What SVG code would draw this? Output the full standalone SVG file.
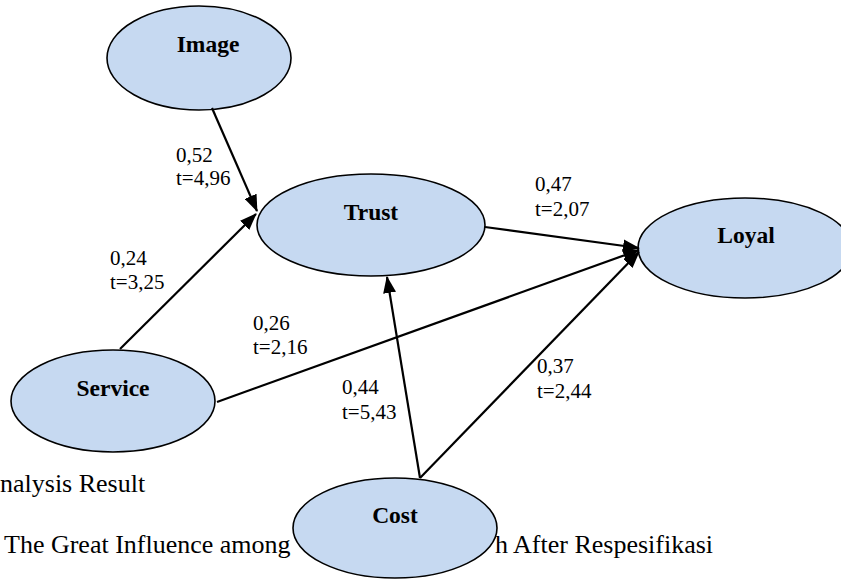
<svg xmlns="http://www.w3.org/2000/svg" width="841" height="579" viewBox="0 0 841 579">
<defs>
<style>
.node ellipse{fill:#C6D9F1;stroke:#000;stroke-width:1.6}
.node text{font-weight:bold;font-size:23.5px;text-anchor:middle;fill:#000}
.lbl{font-size:21px;fill:#000}
.cap{font-size:26px;fill:#000}
#connectors line{stroke:#000;stroke-width:2.2;marker-end:url(#arr)}
</style>
<marker id="arr" markerUnits="userSpaceOnUse" markerWidth="17" markerHeight="13" viewBox="0 0 17 13" refX="16" refY="6.5" orient="auto">
<path d="M0,0 L17,6.5 L0,13 z" fill="#000"/>
</marker>
</defs>
<rect width="841" height="579" fill="#fff"/>
<g font-family="'Liberation Serif', Tinos, 'Times New Roman', 'DejaVu Serif', serif">
<g id="caption">
<text class="cap" x="0" y="492">nalysis Result</text>
<text class="cap" x="4" y="553">The Great Influence among</text>
<text class="cap" x="495" y="553">h After Respesifikasi</text>
</g>
<g id="node-image" class="node"><ellipse cx="199" cy="58" rx="92" ry="52"/><text x="208" y="52">Image</text></g>
<g id="node-trust" class="node"><ellipse cx="371" cy="225" rx="114" ry="51"/><text x="371" y="220">Trust</text></g>
<g id="node-loyal" class="node"><ellipse cx="745" cy="248" rx="107" ry="50"/><text x="746" y="243">Loyal</text></g>
<g id="node-service" class="node"><ellipse cx="113" cy="401" rx="102" ry="51"/><text x="113" y="396">Service</text></g>
<g id="node-cost" class="node"><ellipse cx="395" cy="528" rx="102" ry="50"/><text x="395" y="523">Cost</text></g>
<g id="connectors">
<line x1="212" y1="108" x2="257" y2="211"/>
<line x1="120" y1="349" x2="256" y2="214"/>
<line x1="485" y1="227" x2="639" y2="248"/>
<line x1="217" y1="402" x2="639" y2="250"/>
<line x1="420" y1="478" x2="639" y2="252"/>
<line x1="420" y1="478" x2="387" y2="277"/>
</g>
<g id="labels">
<text class="lbl" x="176" y="162">0,52</text><text class="lbl" x="176" y="185">t=4,96</text>
<text class="lbl" x="110" y="265">0,24</text><text class="lbl" x="110" y="289">t=3,25</text>
<text class="lbl" x="253" y="330">0,26</text><text class="lbl" x="253" y="354">t=2,16</text>
<text class="lbl" x="535" y="191">0,47</text><text class="lbl" x="535" y="216">t=2,07</text>
<text class="lbl" x="342" y="394">0,44</text><text class="lbl" x="342" y="419">t=5,43</text>
<text class="lbl" x="537" y="373">0,37</text><text class="lbl" x="537" y="398">t=2,44</text>
</g>
</g>
</svg>
